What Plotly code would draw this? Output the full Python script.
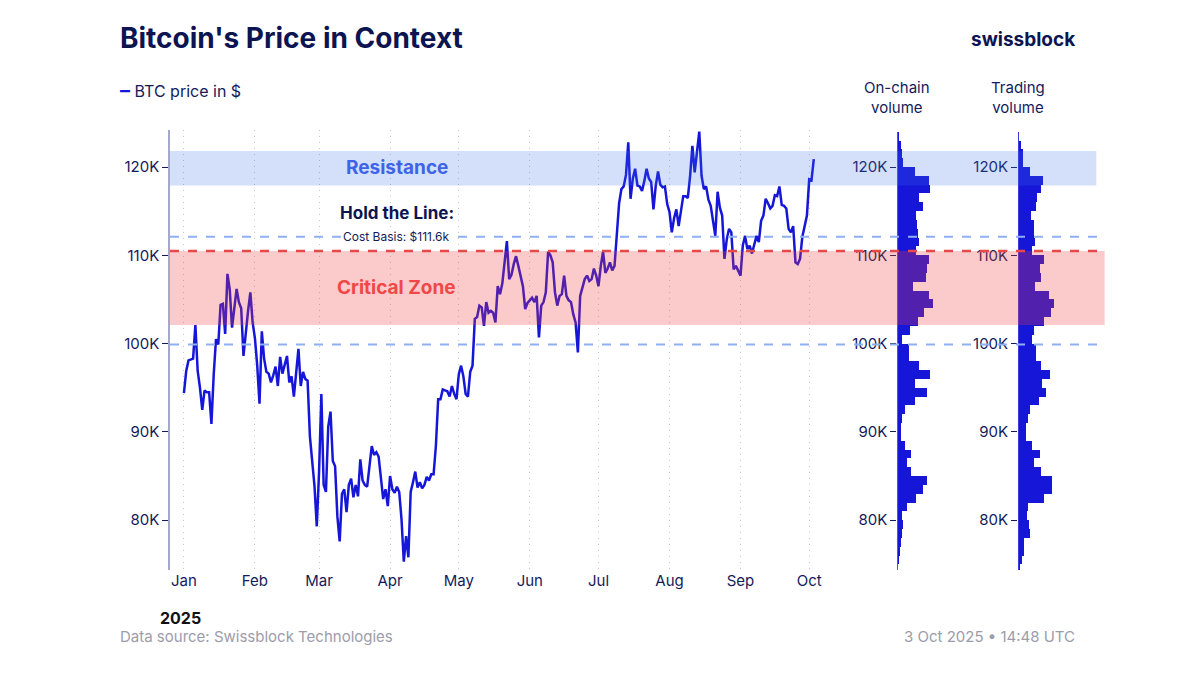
import pandas as pd
import plotly.graph_objects as go

# BTC daily price in $K (1 Jan - 3 Oct 2025)
jan = [94.4, 96.9, 98.1, 98.2, 98.3, 102.1, 96.9, 95.0, 92.5, 94.7,
       94.5, 94.5, 90.9, 96.5, 100.5, 99.9, 104.4, 104.5, 101.1, 107.9,
       106.1, 101.8, 103.7, 106.2, 104.7, 104.0, 98.6, 101.3, 103.7, 105.8, 102.4]
feb = [100.6, 97.5, 93.2, 101.4, 98.3, 96.8, 96.6, 95.6, 96.4, 97.4,
       95.2, 98.5, 96.6, 97.5, 98.6, 95.6, 96.3, 94.0, 96.6, 99.4,
       95.2, 96.8, 96.0, 95.8, 89.5, 86.9, 83.9, 79.3]
mar = [85.5, 94.3, 84.0, 83.2, 90.6, 92.3, 86.7, 86.1, 80.4, 77.6,
       83.0, 83.5, 80.9, 84.0, 84.7, 82.6, 84.0, 82.7, 86.9, 84.5,
       84.0, 83.8, 86.1, 88.4, 87.4, 87.7, 87.2, 84.4, 82.4, 83.5, 81.6]
apr = [85.0, 83.5, 83.1, 83.8, 83.2, 80.1, 75.3, 78.2, 75.8, 83.2,
       84.3, 85.5, 83.7, 84.3, 83.6, 84.0, 84.9, 84.5, 85.2, 85.2,
       88.4, 93.7, 93.7, 94.8, 94.7, 94.6, 94.0, 95.2, 94.3, 93.7]
may = [96.5, 97.5, 96.3, 94.3, 94.0, 96.8, 97.5, 102.8, 103.0, 104.3,
       104.1, 102.0, 104.7, 103.5, 103.7, 103.5, 102.4, 106.5, 105.6, 106.8,
       109.2, 111.6, 107.3, 107.8, 109.0, 109.9, 108.8, 107.8, 106.5, 103.9, 104.6]
jun = [104.9, 105.2, 104.7, 105.4, 100.7, 104.3, 104.7, 105.8, 110.4, 110.0,
       109.2, 105.8, 104.3, 105.4, 105.6, 107.7, 105.4, 104.9, 104.7, 103.3,
       102.4, 99.0, 105.4, 106.5, 107.3, 107.7, 107.1, 107.3, 108.5, 107.7]
jul = [106.5, 108.8, 110.4, 108.0, 108.5, 109.2, 108.3, 108.8, 112.6, 115.9,
       117.5, 117.8, 119.1, 122.8, 116.4, 118.7, 119.8, 117.9, 117.8, 117.3,
       118.4, 119.8, 118.7, 118.3, 115.2, 117.9, 119.5, 118.0, 117.7, 117.8, 115.8]
aug = [114.9, 112.6, 114.2, 115.2, 113.3, 115.0, 116.7, 116.7, 116.5, 119.0,
       122.4, 119.4, 121.5, 124.0, 119.0, 117.5, 117.8, 116.3, 115.6, 114.1,
       112.2, 117.2, 115.4, 114.5, 109.6, 111.8, 113.0, 112.6, 108.4, 108.8, 108.3]
sep = [107.7, 111.1, 112.2, 110.7, 111.1, 110.2, 111.2, 112.2, 111.5, 113.9,
       114.5, 116.4, 115.9, 115.3, 115.6, 116.8, 116.7, 117.8, 115.7, 115.6,
       115.3, 113.0, 112.6, 113.3, 109.2, 109.0, 109.6, 112.1, 113.3, 114.5]
oct_ = [118.6, 118.5, 120.9]

price = jan + feb + mar + apr + may + jun + jul + aug + sep + oct_
dates = pd.date_range("2025-01-01", periods=len(price), freq="D")

# volume profiles, 1K price bins (lower edge), relative units
bin_low = list(range(74, 124))
onchain_vol = [1, 2, 3, 4, 5, 6, 5, 10, 19, 26,
               30, 14, 10, 14, 8, 4, 4, 5, 8, 18,
               30, 18, 33, 22, 12, 12, 5, 13, 21, 27,
               36, 32, 16, 29, 30, 32, 19, 22, 21, 20,
               19, 26, 22, 33, 32, 18, 6, 5, 4, 2]
trading_vol = [2, 4, 6, 6, 12, 11, 9, 10, 26, 34,
               34, 23, 16, 22, 14, 8, 8, 10, 12, 21,
               28, 24, 32, 23, 18, 18, 14, 16, 26, 33,
               36, 31, 17, 23, 22, 26, 14, 17, 16, 16,
               13, 18, 19, 23, 25, 12, 5, 5, 3, 1]

# reference levels in $K
resistance = (117.9, 121.8)
critical_zone = (102.1, 110.5)
cost_basis = 112.1
support = 99.9

month_ticks = pd.date_range("2025-01-01", "2025-10-01", freq="MS")
month_labels = [d.strftime("%b") for d in month_ticks]
price_ticks = [80, 90, 100, 110, 120]
price_labels = [f"{v}K" for v in price_ticks]

NAVY = "#141b5b"
BLUE = "#1616d8"
FONT = "Inter, sans-serif"

fig = go.Figure()

fig.add_trace(go.Scatter(
    x=dates, y=price, mode="lines",
    line=dict(color=BLUE, width=2.5),
    xaxis="x", yaxis="y",
    hovertemplate="%{x|%d %b}: $%{y:.1f}K<extra></extra>",
))

bin_mid = [b + 0.5 for b in bin_low]
fig.add_trace(go.Bar(
    x=onchain_vol, y=bin_mid, orientation="h", width=1,
    marker=dict(color=BLUE, line=dict(width=0)),
    xaxis="x2", yaxis="y2",
))
fig.add_trace(go.Bar(
    x=trading_vol, y=bin_mid, orientation="h", width=1,
    marker=dict(color=BLUE, line=dict(width=0)),
    xaxis="x3", yaxis="y3",
))

yrange = [74.36, 124.19]
ycommon = dict(
    range=yrange, tickvals=price_ticks, ticktext=price_labels,
    ticks="outside", ticklen=6, tickcolor=NAVY,
    tickfont=dict(size=15, color=NAVY, family=FONT),
    showgrid=False, zeroline=False,
)

# page body adds 8px offset, so margins are trimmed on the left/top
fig.update_layout(
    width=1200, height=675,
    margin=dict(l=162, r=108, t=122, b=113),
    paper_bgcolor="white", plot_bgcolor="white",
    showlegend=False, bargap=0,
    font=dict(family=FONT, color=NAVY),
    xaxis=dict(
        domain=[0, 0.71], type="date",
        range=["2024-12-25 22:00", "2025-10-10 05:00"],
        tickvals=month_ticks, ticktext=month_labels,
        tickfont=dict(size=15, color=NAVY, family=FONT),
        showgrid=True, gridcolor="#c4c4cc", griddash="1px,5px", gridwidth=1.2,
        showline=False, zeroline=False, ticks="",
    ),
    yaxis=dict(anchor="x", showline=True, linecolor="#a4a9c9", linewidth=1.5, **ycommon),
    xaxis2=dict(domain=[0.782, 0.849], range=[0, 63], visible=False),
    yaxis2=dict(anchor="x2", showline=False, **ycommon),
    xaxis3=dict(domain=[0.912, 0.979], range=[0, 63], visible=False),
    yaxis3=dict(anchor="x3", showline=False, **ycommon),
)

# zones drawn over the data, semi-transparent
fig.add_shape(type="rect", xref="paper", yref="y", x0=0, x1=0.996,
              y0=resistance[0], y1=resistance[1], layer="above",
              fillcolor="rgba(60,110,230,0.22)", line=dict(width=0))
fig.add_shape(type="rect", xref="paper", yref="y", x0=0, x1=1.005,
              y0=critical_zone[0], y1=critical_zone[1], layer="above",
              fillcolor="rgba(240,60,60,0.27)", line=dict(width=0))
for lvl in (cost_basis, support):
    fig.add_shape(type="line", xref="paper", yref="y", x0=0, x1=1.003,
                  y0=lvl, y1=lvl, layer="above",
                  line=dict(color="#8eb0f2", width=2, dash="dash"))
fig.add_shape(type="line", xref="paper", yref="y", x0=0, x1=1.003,
              y0=critical_zone[1], y1=critical_zone[1], layer="above",
              line=dict(color="#e84848", width=2.5, dash="dash"))

def note(text, x, y, size=15, color=NAVY, xanchor="center", yref="paper", **kw):
    fig.add_annotation(text=text, x=x, y=y, xref="paper", yref=yref,
                       xanchor=xanchor, yanchor="middle", showarrow=False,
                       font=dict(size=size, color=color, family=FONT), **kw)

note("<b>Bitcoin's Price in Context</b>", -0.0559, 1.209, size=28, color="#0d1452", xanchor="left")
note(f"<span style='color:{BLUE};font-size:20px'><b>–</b></span> BTC price in $", -0.0559, 1.091, size=16, xanchor="left")
note("<b>swissblock</b>", 0.975, 1.205, size=19, color="#0d1452", xanchor="right")
note("On-chain<br>volume", 0.782, 1.075, size=15)
note("Trading<br>volume", 0.912, 1.075, size=15)
note("<b>2025</b>", -0.0129, -0.109, size=16, color="#111111", xanchor="left")
note("Data source: Swissblock Technologies", -0.0559, -0.150, size=15, color="#9c9cab", xanchor="left")
note("3 Oct 2025 • 14:48 UTC", 0.975, -0.150, size=15, color="#9c9cab", xanchor="right")

note("<b>Resistance</b>", 0.244, 119.9, size=19, color="#3d63e6", yref="y")
note("<b>Hold the Line:</b>", 0.244, 114.8, size=17, color="#0d1452", yref="y")
note("Cost Basis: $111.6k", 0.244, cost_basis, size=12, yref="y", bgcolor="white")
note("<b>Critical Zone</b>", 0.244, 106.3, size=19, color="#f04848", yref="y")

fig.write_html("out.html")
